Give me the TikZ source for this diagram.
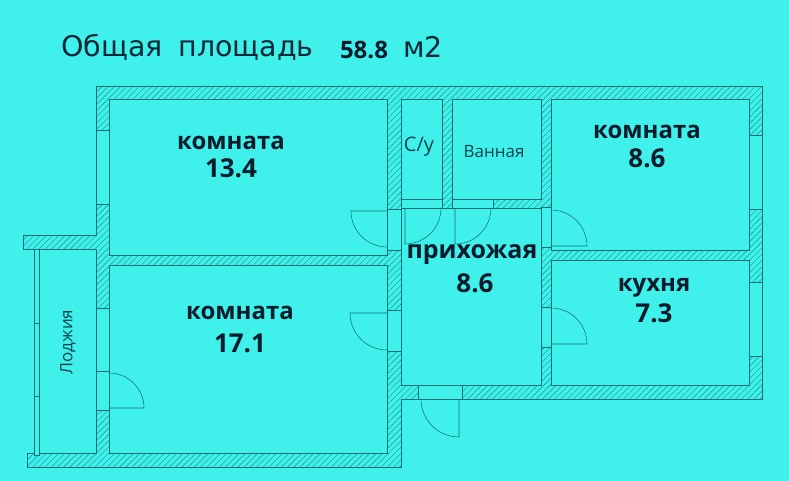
\documentclass[tikz,border=0pt]{standalone}
\usepackage{fontspec}
\setmainfont{Open Sans}
\newfontfamily\titlefont{DejaVu Sans}
\usetikzlibrary{patterns.meta}
\definecolor{bgcol}{RGB}{64,241,235}
\definecolor{wallcol}{RGB}{10,112,118}
\definecolor{inkcol}{RGB}{6,28,44}
\tikzset{
  wall/.style={pattern={Lines[angle=45,distance=4.4pt,line width=.45pt]},pattern color=wallcol!75!bgcol,even odd rule},
  outline/.style={draw=wallcol,line width=.95pt},
  opening/.style={fill=bgcol,draw=wallcol,line width=.7pt},
  doorleaf/.style={draw=wallcol,line width=.55pt},
  roomlabel/.style={font=\bfseries\fontsize{24}{26}\selectfont,text=inkcol,inner sep=0pt},
  arealabel/.style={font=\bfseries\fontsize{26}{28}\selectfont,text=inkcol,inner sep=0pt},
  smalllabel/.style={font=\fontsize{17}{19}\selectfont,text=wallcol!45!inkcol,inner sep=0pt}
}
\begin{document}
\begin{tikzpicture}[x=1pt,y=-1pt]

  \useasboundingbox (0,0) rectangle (789,481);
  \fill[bgcol] (0,0) rectangle (789,481);

  % walls with the rooms cut out
  \fill[wall] (96,86)--(762,86)--(762,399)--(401,399)--(401,467)--(27,467)--(27,453)--(96,453)--(96,249)--(23,249)--(23,235)--(96,235)--cycle
    (109,99) rectangle (387,255) (109,265) rectangle (387,453)
    (401,99) rectangle (442,199) (452,99) rectangle (541,199)
    (401,208) rectangle (541,385)
    (551,99) rectangle (749,250) (551,260) rectangle (749,385);

  \draw[outline] (96,86)--(762,86)--(762,399)--(401,399)--(401,467)--(27,467)--(27,453)--(96,453)--(96,249)--(23,249)--(23,235)--(96,235)--cycle;
  \foreach \xa/\ya/\xb/\yb in {109/99/387/255,109/265/387/453,401/99/442/199,452/99/541/199,401/208/541/385,551/99/749/250,551/260/749/385}
    \draw[outline] (\xa,\ya) rectangle (\xb,\yb);

  % windows and door openings
  \foreach \xa/\ya/\xb/\yb in {96/130/109/204,96/308/109/371,96/371/109/410,749/135/762/209,749/282/762/356,
    387/209/401/250,387/310/401/351,401/199/442/208,452/199/493/208,541/207/551/247,541/307/551/347,418/385/462/399}
    \filldraw[opening] (\xa,\ya) rectangle (\xb,\yb);

  % loggia glazing
  \filldraw[opening] (34,249) rectangle (39,455);
  \draw[opening] (34,323)--(39,323) (34,396)--(39,396);

  % door leaves
  \foreach \hx/\hy/\sa/\ea/\rad in {387/211/180/90/36,387/313/180/90/37,109/408/0/-90/35,405/208/90/0/36,455/208/90/0/36,551/246/0/-90/36,551/344/0/-90/36,459/399/90/180/38}
    \draw[doorleaf] (\hx,\hy)--+(\sa:\rad) arc[start angle=\sa,end angle=\ea,radius=\rad];

  \node[font=\titlefont\fontsize{28.5}{30}\selectfont,text=inkcol!85!wallcol,inner sep=0pt,anchor=west] (title) at (61,47) {Общая\hspace{.24em} площадь};
  \node[font=\bfseries\fontsize{24}{26}\selectfont,text=inkcol,inner sep=0pt] (total) at (364,50) {58.8};
  \node[font=\titlefont\fontsize{28.5}{30}\selectfont,text=inkcol!85!wallcol,inner sep=0pt] (unit) at (423,47) {м2};

  \node[roomlabel] (roomA) at (231,143) {комната};
  \node[arealabel] (areaA) at (231,168) {13.4};
  \node[roomlabel] (roomB) at (240,313) {комната};
  \node[arealabel] (areaB) at (240,343) {17.1};
  \node[roomlabel] (roomC) at (647,132) {комната};
  \node[arealabel] (areaC) at (647,158) {8.6};
  \node[roomlabel] (kitchen) at (654,288) {кухня};
  \node[arealabel] (areaK) at (654,313) {7.3};
  \node[roomlabel,font=\bfseries\fontsize{25}{27}\selectfont] (hall) at (472,255) {прихожая};
  \node[arealabel] (areaH) at (475,283) {8.6};
  \node[smalllabel,font=\fontsize{20}{22}\selectfont] (wc) at (419,147) {С/у};
  \node[smalllabel] (bath) at (494,152) {Ванная};
  \node[smalllabel,rotate=90] (loggia) at (68,342) {Лоджия};
\end{tikzpicture}
\end{document}
